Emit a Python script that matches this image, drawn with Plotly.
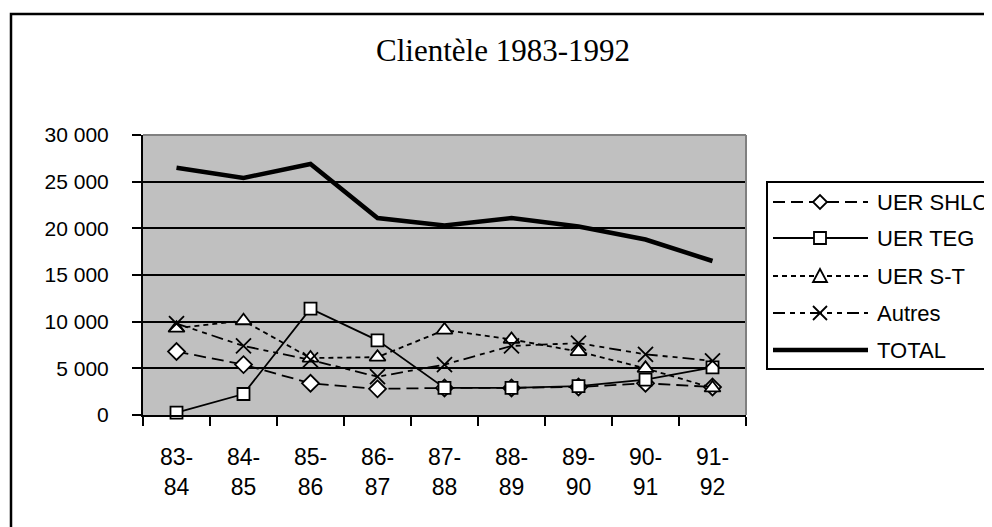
import plotly.graph_objects as go

# ---------------- data ----------------
periods = ["83-84", "84-85", "85-86", "86-87", "87-88", "88-89", "89-90", "90-91", "91-92"]
tick_labels = ["83-<br>84", "84-<br>85", "85-<br>86", "86-<br>87", "87-<br>88",
               "88-<br>89", "89-<br>90", "90-<br>91", "91-<br>92"]
uer_shlc = [6800, 5400, 3400, 2800, 2900, 2900, 3000, 3400, 3000]
uer_teg = [250, 2250, 11400, 8000, 2900, 2900, 3100, 3800, 5100]
uer_st = [9300, 10100, 6100, 6200, 9100, 8100, 6800, 5000, 2900]
autres = [9800, 7400, 5900, 4100, 5400, 7400, 7700, 6500, 5800]
total = [26500, 25400, 26900, 21100, 20300, 21100, 20200, 18800, 16500]
y_ticks = [0, 5000, 10000, 15000, 20000, 25000, 30000]

title_text = "Clientèle 1983-1992"
names = ["UER SHLC", "UER TEG", "UER S-T", "Autres", "TOTAL"]

# ---------------- styles ----------------
SANS = "Liberation Sans, Arial, sans-serif"
SERIF = "Liberation Serif, Times New Roman, serif"
OFF = 8                      # page body margin offset
W, H = 992 - OFF, 527 - OFF
# plot area in page pixels
PL, PR, PT, PB = 143, 746, 135, 415
PW, PH = PR - PL, PB - PT
L, T = PL - OFF, PT - OFF
R, B = W - L - PW, H - T - PH
LW = 1.8

series = [
    dict(y=uer_shlc, dash="12px,6px", symbol="diamond", size=13),
    dict(y=uer_teg, dash="solid", symbol="square", size=12),
    dict(y=uer_st, dash="5px,4px", symbol="triangle-up", size=14),
    dict(y=autres, dash="12px,5px,5px,5px,5px,5px", symbol="x-thin", size=15),
]

fig = go.Figure()
for name, s in zip(names[:4], series):
    if s["symbol"] == "x-thin":
        marker = dict(symbol="x-thin", size=s["size"], color="black",
                      line=dict(color="black", width=1.8))
    else:
        marker = dict(symbol=s["symbol"], size=s["size"], color="white",
                      line=dict(color="black", width=1.8))
    fig.add_trace(go.Scatter(
        x=periods, y=s["y"], name=name, mode="lines+markers",
        line=dict(color="black", width=LW, dash=s["dash"]),
        marker=marker, showlegend=False, cliponaxis=False))

fig.add_trace(go.Scatter(
    x=periods, y=total, name=names[4], mode="lines",
    line=dict(color="black", width=4.5), showlegend=False))


def px_x(px):
    return (px - PL) / PW


def px_y(py):
    return (PB - py) / PH


shapes = []
# outer chart border
shapes.append(dict(type="rect", xref="paper", yref="paper",
                   x0=px_x(11), x1=px_x(1012), y0=px_y(545), y1=px_y(14),
                   line=dict(color="black", width=2.5), fillcolor="rgba(0,0,0,0)",
                   layer="above"))
# plot area top / right border (gray)
shapes.append(dict(type="line", xref="paper", yref="paper", x0=0, x1=1, y0=1, y1=1,
                   line=dict(color="#808080", width=2), layer="above"))
shapes.append(dict(type="line", xref="paper", yref="paper", x0=1, x1=1, y0=0, y1=1,
                   line=dict(color="#808080", width=2), layer="above"))
# legend box
shapes.append(dict(type="rect", xref="paper", yref="paper",
                   x0=px_x(767), x1=px_x(1012), y0=px_y(369), y1=px_y(182),
                   line=dict(color="black", width=2), fillcolor="white", layer="above"))

leg_y = [202, 238, 276, 313, 350]
leg_dash = ["12px,6px", "solid", "5px,4px", "12px,5px,5px,5px,5px,5px", "solid"]
leg_w = [LW, LW, LW, LW, 4.5]
for yy, d, lw in zip(leg_y, leg_dash, leg_w):
    shapes.append(dict(type="line", xref="paper", yref="paper",
                       x0=px_x(773), x1=px_x(868), y0=px_y(yy), y1=px_y(yy),
                       line=dict(color="black", width=lw, dash=d), layer="above"))

marker_paths = [
    "M-7,0 L0,7 L7,0 L0,-7 Z",
    "M-6,-6 L6,-6 L6,6 L-6,6 Z",
    "M-7,-6 L7,-6 L0,7 Z",
]
for yy, p in zip(leg_y[:3], marker_paths):
    shapes.append(dict(type="path", xref="paper", yref="paper",
                       xsizemode="pixel", ysizemode="pixel",
                       xanchor=px_x(820), yanchor=px_y(yy), path=p,
                       line=dict(color="black", width=1.8), fillcolor="white",
                       layer="above"))
shapes.append(dict(type="path", xref="paper", yref="paper",
                   xsizemode="pixel", ysizemode="pixel",
                   xanchor=px_x(820), yanchor=px_y(leg_y[3]),
                   path="M-7,-7 L7,7 M-7,7 L7,-7",
                   line=dict(color="black", width=1.8), layer="above"))

annotations = []
for yy, n in zip(leg_y, names):
    annotations.append(dict(text=n, xref="paper", yref="paper",
                            x=px_x(875), y=px_y(yy), xanchor="left", yanchor="middle",
                            showarrow=False, font=dict(family=SANS, size=22, color="black")))

fig.update_layout(
    width=W, height=H,
    margin=dict(l=L, r=R, t=T, b=B, pad=0),
    paper_bgcolor="white", plot_bgcolor="#C0C0C0",
    separators=", ",
    title=dict(text=title_text, x=(503 - OFF) / W, xref="container", xanchor="center",
               y=1 - (50 - OFF) / H, yref="container", yanchor="middle",
               font=dict(family=SERIF, size=31, color="black")),
    shapes=shapes, annotations=annotations,
    showlegend=False,
    xaxis=dict(type="category", categoryorder="array", categoryarray=periods,
               range=[-0.5, len(periods) - 0.5],
               tickmode="array", tickvals=periods, ticktext=tick_labels,
               tickson="boundaries", ticks="outside", ticklen=9, tickwidth=2,
               tickcolor="black", showgrid=False, showline=True, linecolor="black",
               linewidth=2, ticklabelstandoff=20,
               tickfont=dict(family=SANS, size=23, color="black")),
    yaxis=dict(range=[0, 30000], tickmode="array", tickvals=y_ticks,
               tickformat=",d", ticks="outside", ticklen=9, tickwidth=2,
               tickcolor="black", showgrid=True, gridcolor="black", gridwidth=2,
               zeroline=False, showline=True, linecolor="black", linewidth=2,
               ticklabelstandoff=19,
               tickfont=dict(family=SANS, size=21, color="black")),
)

fig.write_html("out.html")
